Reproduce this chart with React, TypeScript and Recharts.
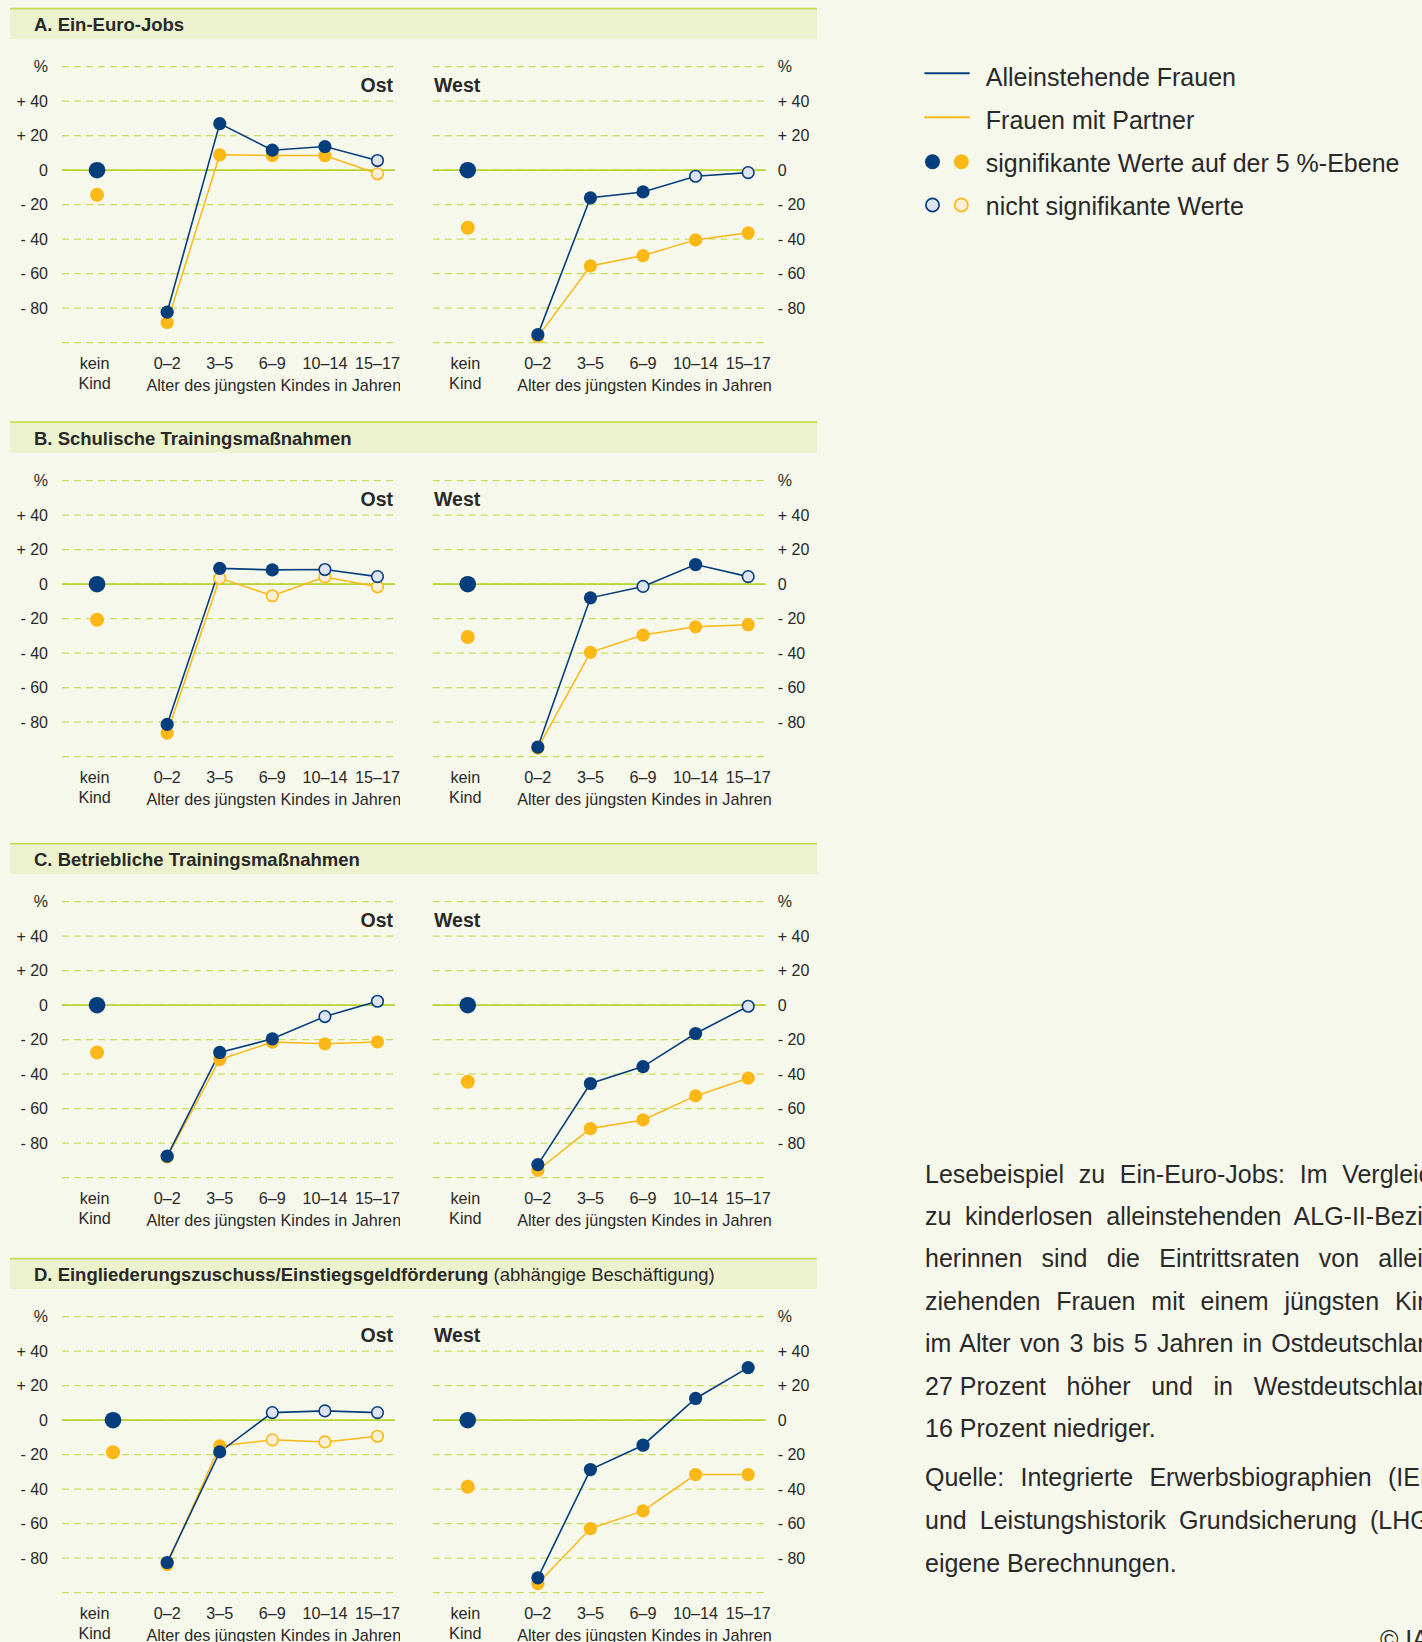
import React from 'react';
import { ComposedChart, Line, Scatter, XAxis, YAxis, CartesianGrid, ReferenceLine } from 'recharts';

// ---------------- data ----------------
const CATEGORIES = ['kein Kind', '0–2', '3–5', '6–9', '10–14', '15–17'];
const AXIS_TITLE = 'Alter des jüngsten Kindes in Jahren';
const Y_TICKS = [60, 40, 20, 0, -20, -40, -60, -80, -100];
const SERIES_NAMES = ['Alleinstehende Frauen', 'Frauen mit Partner'];
const LEGEND_SIG = 'signifikante Werte auf der 5 %-Ebene';
const LEGEND_NONSIG = 'nicht signifikante Werte';
const REGIONS = ['Ost', 'West'];

// A. Ein-Euro-Jobs
const A_OST_ALLEIN = [0, -82.3, 27, 11.6, 13.7, 5.6];
const A_OST_ALLEIN_SIG = [true, true, true, true, true, false];
const A_OST_PARTNER = [-14.3, -88.3, 8.9, 8.5, 8.5, -2.1];
const A_OST_PARTNER_SIG = [true, true, true, true, true, false];
const A_WEST_ALLEIN = [0, -95.3, -16, -12.6, -3.5, -1.4];
const A_WEST_ALLEIN_SIG = [true, true, true, true, false, false];
const A_WEST_PARTNER = [-33.4, -96.6, -55.5, -49.5, -40.4, -36.3];
const A_WEST_PARTNER_SIG = [true, true, true, true, true, true];

// B. Schulische Trainingsmaßnahmen
const B_OST_ALLEIN = [0, -81.3, 9.2, 8.3, 8.5, 4.4];
const B_OST_ALLEIN_SIG = [true, true, true, true, false, false];
const B_OST_PARTNER = [-20.6, -86.3, 3.5, -6.7, 4.2, -1.5];
const B_OST_PARTNER_SIG = [true, true, false, false, false, false];
const B_WEST_ALLEIN = [0, -94.4, -7.9, -1.3, 11.4, 4.4];
const B_WEST_ALLEIN_SIG = [true, true, true, false, true, false];
const B_WEST_PARTNER = [-30.6, -95, -39.5, -29.5, -24.7, -23.5];
const B_WEST_PARTNER_SIG = [true, true, true, true, true, true];

// C. Betriebliche Trainingsmaßnahmen
const C_OST_ALLEIN = [0, -87.5, -27.4, -19.5, -6.6, 2.3];
const C_OST_ALLEIN_SIG = [true, true, true, true, false, false];
const C_OST_PARTNER = [-27.4, -88, -31.5, -21.4, -22.4, -21.3];
const C_OST_PARTNER_SIG = [true, true, true, true, true, true];
const C_WEST_ALLEIN = [0, -92.4, -45.4, -35.6, -16.4, -0.6];
const C_WEST_ALLEIN_SIG = [true, true, true, true, true, false];
const C_WEST_PARTNER = [-44.4, -95.7, -71.5, -66.5, -52.6, -42.3];
const C_WEST_PARTNER_SIG = [true, true, true, true, true, true];

// D. Eingliederungszuschuss/Einstiegsgeldförderung
const D_OST_ALLEIN = [0, -82.5, -18.4, 4.4, 5.4, 4.4];
const D_OST_ALLEIN_SIG = [true, true, true, false, false, false];
const D_OST_PARTNER = [-18.6, -83.7, -14.9, -11.4, -12.6, -9.3];
const D_OST_PARTNER_SIG = [true, true, true, false, false, false];
const D_WEST_ALLEIN = [0, -91.4, -28.6, -14.5, 12.6, 30.5];
const D_WEST_ALLEIN_SIG = [true, true, true, true, true, true];
const D_WEST_PARTNER = [-38.6, -94.7, -62.8, -52.6, -31.5, -31.5];
const D_WEST_PARTNER_SIG = [true, true, true, true, true, true];

const NOTE_LINES = [
  'Lesebeispiel zu Ein-Euro-Jobs: Im Vergleich',
  'zu kinderlosen alleinstehenden ALG-II-Bezie-',
  'herinnen sind die Eintrittsraten von allein-',
  'ziehenden Frauen mit einem jüngsten Kind',
  'im Alter von 3 bis 5 Jahren in Ostdeutschland',
  '27\u00A0Prozent höher und in Westdeutschland',
  '16\u00A0Prozent niedriger.',
];
const SOURCE_LINES = [
  'Quelle: Integrierte Erwerbsbiographien (IEB)',
  'und Leistungshistorik Grundsicherung (LHG),',
  'eigene Berechnungen.',
];
const COPYRIGHT = '© IAB';

// ---------------- style / layout ----------------
const FONT = "'Liberation Sans', Arial, sans-serif";
const BLUE = '#063e7d';
const ORANGE = '#fbb817';
const BLUE_HOLLOW = '#dde3f0';
const ORANGE_HOLLOW = '#fdefd4';
const GRID = '#c9df5c';
const ZERO = '#b8d433';
const BG = '#f6f8eb';
const BAND = '#ebf2cd';
const BAND_LINE = '#c5dc56';
const TEXT = '#2a2929';

const KEIN_X = -1 / 3;
const KEIN_TICK = -0.38;
const X_TICKS = [KEIN_TICK, 1, 2, 3, 4, 5];
const PLOT_TOP = 66.7;
const CHART_H = 410;

const PANELS = [
  {
    title: 'A. Ein-Euro-Jobs', extra: '', top: 0,
    ost: { allein: A_OST_ALLEIN, alleinSig: A_OST_ALLEIN_SIG, partner: A_OST_PARTNER, partnerSig: A_OST_PARTNER_SIG, keinX: KEIN_X },
    west: { allein: A_WEST_ALLEIN, alleinSig: A_WEST_ALLEIN_SIG, partner: A_WEST_PARTNER, partnerSig: A_WEST_PARTNER_SIG, keinX: KEIN_X },
  },
  {
    title: 'B. Schulische Trainingsmaßnahmen', extra: '', top: 413.5,
    ost: { allein: B_OST_ALLEIN, alleinSig: B_OST_ALLEIN_SIG, partner: B_OST_PARTNER, partnerSig: B_OST_PARTNER_SIG, keinX: KEIN_X },
    west: { allein: B_WEST_ALLEIN, alleinSig: B_WEST_ALLEIN_SIG, partner: B_WEST_PARTNER, partnerSig: B_WEST_PARTNER_SIG, keinX: KEIN_X },
  },
  {
    title: 'C. Betriebliche Trainingsmaßnahmen', extra: '', top: 835,
    ost: { allein: C_OST_ALLEIN, alleinSig: C_OST_ALLEIN_SIG, partner: C_OST_PARTNER, partnerSig: C_OST_PARTNER_SIG, keinX: KEIN_X },
    west: { allein: C_WEST_ALLEIN, alleinSig: C_WEST_ALLEIN_SIG, partner: C_WEST_PARTNER, partnerSig: C_WEST_PARTNER_SIG, keinX: KEIN_X },
  },
  {
    title: 'D. Eingliederungszuschuss/Einstiegsgeldförderung', extra: ' (abhängige Beschäftigung)', top: 1250,
    ost: { allein: D_OST_ALLEIN, alleinSig: D_OST_ALLEIN_SIG, partner: D_OST_PARTNER, partnerSig: D_OST_PARTNER_SIG, keinX: -0.03 },
    west: { allein: D_WEST_ALLEIN, alleinSig: D_WEST_ALLEIN_SIG, partner: D_WEST_PARTNER, partnerSig: D_WEST_PARTNER_SIG, keinX: KEIN_X },
  },
];

const fmtY = (v: number) => (v === 60 ? '%' : v === -100 ? '' : v === 0 ? '0' : v > 0 ? `+ ${v}` : `- ${-v}`);

const XTick = (props: any) => {
  const { x, y, payload } = props;
  const v = payload.value;
  const common = { textAnchor: 'middle' as const, dominantBaseline: 'central' as const, fontSize: 16.2, fill: TEXT, fontFamily: FONT };
  if (v < 0) {
    const [a, b] = CATEGORIES[0].split(' ');
    return (
      <g>
        <text x={x} y={y + 20} {...common}>{a}</text>
        <text x={x} y={y + 40.6} {...common}>{b}</text>
      </g>
    );
  }
  const idx = Math.round(v);
  return (
    <g>
      <text x={x} y={y + 20.6} {...common}>{CATEGORIES[idx]}</text>
      {idx === 3 ? <text x={x + 1.5} y={y + 42.3} {...common}>{AXIS_TITLE}</text> : null}
    </g>
  );
};

const makeYTick = (anchor: 'start' | 'end') => (props: any) => {
  const { x, y, payload } = props;
  return (
    <text x={x} y={y} textAnchor={anchor} dominantBaseline="central" fontSize={16} fill={TEXT} fontFamily={FONT}>
      {fmtY(payload.value)}
    </text>
  );
};

const makeDot = (color: string, hollow: string) => (p: any) => {
  const { cx, cy, index, payload } = p;
  if (cx == null || cy == null) return <g key={`e${index}`} />;
  return payload.sig ? (
    <circle key={`d${index}`} cx={cx} cy={cy} r={6.6} fill={color} stroke="none" />
  ) : (
    <circle key={`d${index}`} cx={cx} cy={cy} r={5.8} fill={hollow} stroke={color} strokeWidth={1.6} />
  );
};

const toLine = (vals: number[], sig: boolean[]) => vals.slice(1).map((v, i) => ({ x: i + 1, v, sig: sig[i + 1] }));

function SideChart({ series, side, top }: any) {
  const isOst = side === 'Ost';
  const alleinLine = toLine(series.allein, series.alleinSig);
  const partnerLine = toLine(series.partner, series.partnerSig);
  const alleinKein = [{ x: series.keinX, v: series.allein[0] }];
  const partnerKein = [{ x: series.keinX, v: series.partner[0] }];
  return (
    <div style={{ position: 'absolute', left: isOst ? 0 : 400, top }}>
      <ComposedChart
        width={isOst ? 400 : 420}
        height={CHART_H}
        margin={isOst ? { top: PLOT_TOP, right: 5, bottom: 0, left: 12 } : { top: PLOT_TOP, right: 4.3, bottom: 0, left: 32.7 }}
      >
        <CartesianGrid horizontal vertical={false} stroke={GRID} strokeWidth={1.3} strokeDasharray="7 5" />
        <XAxis
          type="number" dataKey="x" domain={[-1, 16 / 3]} ticks={X_TICKS} interval={0}
          tick={XTick} axisLine={false} tickLine={false} tickSize={0} tickMargin={0}
          height={CHART_H - PLOT_TOP - 276} allowDataOverflow
        />
        <YAxis
          type="number" domain={[-100, 60]} ticks={Y_TICKS} interval={0}
          orientation={isOst ? 'left' : 'right'} width={50}
          tick={makeYTick(isOst ? 'end' : 'start')} axisLine={false} tickLine={false}
          tickSize={0} tickMargin={isOst ? 14 : 12} allowDataOverflow
        />
        <ReferenceLine y={0} stroke={ZERO} strokeWidth={1.7} />
        <Line data={partnerLine} dataKey="v" stroke={ORANGE} strokeWidth={1.5} dot={makeDot(ORANGE, ORANGE_HOLLOW)} activeDot={false} isAnimationActive={false} />
        <Line data={alleinLine} dataKey="v" stroke={BLUE} strokeWidth={1.6} dot={makeDot(BLUE, BLUE_HOLLOW)} activeDot={false} isAnimationActive={false} />
        <Scatter data={partnerKein} dataKey="v" isAnimationActive={false} shape={(p: any) => <circle cx={p.cx} cy={p.cy} r={7} fill={ORANGE} />} />
        <Scatter data={alleinKein} dataKey="v" isAnimationActive={false} shape={(p: any) => <circle cx={p.cx} cy={p.cy} r={8.3} fill={BLUE} />} />
      </ComposedChart>
    </div>
  );
}

const renderLine = (line: string) =>
  line.split(' ').map((tok, i, arr) => {
    const sep = i < arr.length - 1 ? ' ' : '';
    if (tok.includes('\u00A0')) {
      return (
        <React.Fragment key={i}>
          <span style={{ display: 'inline-block' }}>{tok.replace('\u00A0', ' ')}</span>
          {sep}
        </React.Fragment>
      );
    }
    return <React.Fragment key={i}>{tok + sep}</React.Fragment>;
  });

function TextBlock({ lines, top, lineH }: any) {
  return (
    <div style={{ position: 'absolute', left: 925, top, width: 520, fontSize: 25, lineHeight: `${lineH}px`, color: TEXT, fontFamily: FONT }}>
      {lines.map((l: string, i: number) => {
        const last = i === lines.length - 1;
        return (
          <div key={i} style={{ textAlign: last ? 'left' : 'justify', textAlignLast: last ? 'left' : 'justify', whiteSpace: 'nowrap' as any }}>
            {renderLine(l)}
          </div>
        );
      })}
    </div>
  );
}

export default function App() {
  return (
    <div style={{ position: 'absolute', left: 0, top: 0, width: 1422, height: 1642, overflow: 'hidden', background: BG, fontFamily: FONT }}>
      <svg width={1422} height={1642} style={{ position: 'absolute', left: 0, top: 0 }}>
        {PANELS.map((p, i) => (
          <g key={i}>
            <rect x={10} y={p.top + 8} width={807} height={31} fill={BAND} />
            <line x1={10} x2={817} y1={p.top + 8.6} y2={p.top + 8.6} stroke={BAND_LINE} strokeWidth={1.6} />
            <text x={34} y={p.top + 31} fontSize={18.5} fill={TEXT} fontFamily={FONT}>
              <tspan fontWeight="bold">{p.title}</tspan>
              {p.extra ? <tspan fontWeight="normal">{p.extra}</tspan> : null}
            </text>
            <text x={393} y={p.top + 92.3} textAnchor="end" fontSize={19.5} fontWeight="bold" fill={TEXT} fontFamily={FONT}>{REGIONS[0]}</text>
            <text x={434} y={p.top + 92.3} fontSize={19.5} fontWeight="bold" fill={TEXT} fontFamily={FONT}>{REGIONS[1]}</text>
          </g>
        ))}
        {/* legend */}
        <line x1={924.4} x2={969.7} y1={73.3} y2={73.3} stroke={BLUE} strokeWidth={2} />
        <text x={985.8} y={85.7} fontSize={25} fill={TEXT} fontFamily={FONT}>{SERIES_NAMES[0]}</text>
        <line x1={924.4} x2={969.7} y1={117.3} y2={117.3} stroke={ORANGE} strokeWidth={2} />
        <text x={985.8} y={129.3} fontSize={25} fill={TEXT} fontFamily={FONT}>{SERIES_NAMES[1]}</text>
        <circle cx={932.5} cy={161.7} r={7.5} fill={BLUE} />
        <circle cx={961.3} cy={161.7} r={7.5} fill={ORANGE} />
        <text x={985.8} y={171.7} fontSize={25} fill={TEXT} fontFamily={FONT}>{LEGEND_SIG}</text>
        <circle cx={932.5} cy={205} r={6.6} fill={BLUE_HOLLOW} stroke={BLUE} strokeWidth={1.7} />
        <circle cx={961.3} cy={205} r={6.6} fill={ORANGE_HOLLOW} stroke={ORANGE} strokeWidth={1.7} />
        <text x={985.8} y={215} fontSize={25} fill={TEXT} fontFamily={FONT}>{LEGEND_NONSIG}</text>
      </svg>
      {PANELS.map((p, i) => (
        <React.Fragment key={i}>
          <SideChart series={p.ost} side="Ost" top={p.top} />
          <SideChart series={p.west} side="West" top={p.top} />
        </React.Fragment>
      ))}
      <TextBlock lines={NOTE_LINES} top={1152.6} lineH={42.4} />
      <TextBlock lines={SOURCE_LINES} top={1456.3} lineH={43} />
      <div style={{ position: 'absolute', left: 1380, top: 1626.8, fontSize: 25, lineHeight: '25px', color: TEXT, fontFamily: FONT, whiteSpace: 'nowrap' }}>
        {COPYRIGHT}
      </div>
    </div>
  );
}
